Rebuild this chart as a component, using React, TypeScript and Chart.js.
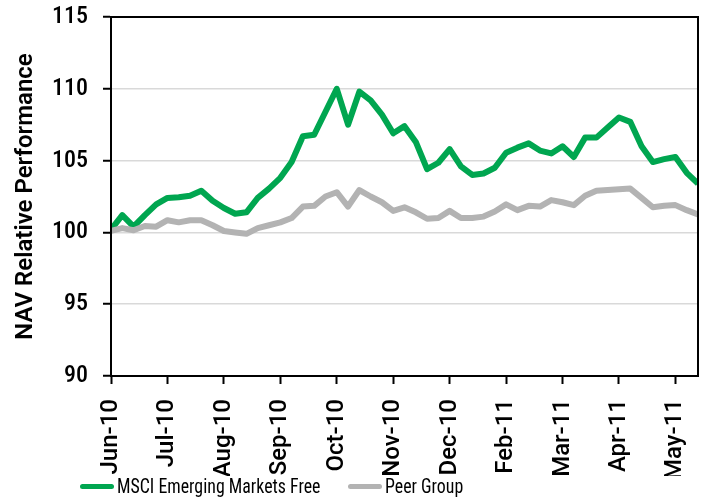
import React, { useEffect, useRef } from "react";
import { Chart, registerables } from "chart.js";

Chart.register(...registerables);

const xTickLabels = ["Jun-10", "Jul-10", "Aug-10", "Sep-10", "Oct-10", "Nov-10", "Dec-10", "Feb-11", "Mar-11", "Apr-11", "May-11"];

const msciValues = [
  100.2, 101.2, 100.4, 101.2, 101.95, 102.4, 102.45, 102.55, 102.9, 102.2,
  101.7, 101.3, 101.4, 102.4, 103.05, 103.8, 104.9, 106.7, 106.8, 108.4,
  110.0, 107.5, 109.8, 109.2, 108.2, 106.9, 107.4, 106.3, 104.4, 104.85,
  105.8, 104.6, 104.0, 104.1, 104.5, 105.55, 105.9, 106.2, 105.7, 105.5,
  106.0, 105.25, 106.6, 106.6, 107.3, 108.0, 107.7, 106.0, 104.9, 105.1,
  105.25, 104.15, 103.4,
];

const peerValues = [
  100.1, 100.3, 100.15, 100.45, 100.4, 100.85, 100.7, 100.85, 100.85, 100.5,
  100.1, 100.0, 99.9, 100.3, 100.5, 100.7, 101.0, 101.8, 101.85, 102.5,
  102.8, 101.8, 102.95, 102.5, 102.1, 101.5, 101.75, 101.4, 100.95, 101.0,
  101.5, 101.0, 101.0, 101.1, 101.45, 101.95, 101.55, 101.85, 101.8, 102.25,
  102.1, 101.9, 102.55, 102.9, 102.95, 103.0, 103.05, 102.4, 101.75, 101.85,
  101.9, 101.55, 101.25,
];

const seriesNames = ["MSCI Emerging Markets Free", "Peer Group"];
const seriesColors = ["#00a650", "#b3b3b3"];

const FONT = 'Roboto, "Liberation Sans", Arial, sans-serif';

const framePlugin = {
  id: "frame",
  afterDatasetsDraw(chart: any) {
    const { ctx, chartArea } = chart;
    ctx.save();
    ctx.strokeStyle = "#000";
    ctx.lineWidth = 2;
    ctx.strokeRect(chartArea.left, chartArea.top, chartArea.right - chartArea.left, chartArea.bottom - chartArea.top);
    ctx.restore();
  },
};

export default function App() {
  const ref = useRef<HTMLCanvasElement | null>(null);

  useEffect(() => {
    if (!ref.current) return;
    const toPoints = (arr: number[]) => arr.map((v, i) => ({ x: i, y: v }));
    const zeroPad = (s: any) => {
      s.paddingTop = 0;
      s.paddingBottom = 0;
      s.paddingLeft = 0;
      s.paddingRight = 0;
    };
    const chart = new Chart(ref.current, {
      type: "line",
      data: {
        datasets: [
          {
            label: seriesNames[0],
            data: toPoints(msciValues),
            borderColor: seriesColors[0],
            backgroundColor: seriesColors[0],
            borderWidth: 6,
            pointRadius: 0,
            tension: 0,
            borderJoinStyle: "round",
            order: 1,
          },
          {
            label: seriesNames[1],
            data: toPoints(peerValues),
            borderColor: seriesColors[1],
            backgroundColor: seriesColors[1],
            borderWidth: 6,
            pointRadius: 0,
            tension: 0,
            borderJoinStyle: "round",
            order: 0,
          },
        ],
      },
      options: {
        animation: false,
        responsive: false,
        maintainAspectRatio: false,
        devicePixelRatio: 1,
        layout: { padding: { top: 17, right: 10, left: 0, bottom: 26 } },
        plugins: {
          legend: { display: false },
          tooltip: { enabled: false },
        },
        scales: {
          x: {
            type: "linear",
            min: 0,
            max: msciValues.length - 1,
            afterFit: (s: any) => {
              s.height = 100;
              zeroPad(s);
            },
            border: { display: true, color: "#000", width: 2 },
            grid: {
              display: true,
              drawOnChartArea: false,
              drawTicks: true,
              tickLength: 8,
              tickColor: "#000",
              tickWidth: 2,
            },
            ticks: {
              stepSize: 5,
              includeBounds: false,
              autoSkip: false,
              maxTicksLimit: 30,
              minRotation: 90,
              maxRotation: 90,
              padding: 15,
              color: "#000",
              font: { family: FONT, size: 24, weight: "500" },
              callback: (v: any) => {
                const idx = Math.round(Number(v) / 5);
                return xTickLabels[idx] ?? "";
              },
            },
          },
          y: {
            min: 90,
            max: 115,
            afterFit: (s: any) => {
              s.width = 111;
              zeroPad(s);
            },
            border: { display: true, color: "#000", width: 2 },
            grid: {
              color: "#d9d9d9",
              lineWidth: 1.5,
              tickLength: 8,
              tickColor: "#000",
              tickWidth: 2,
            },
            ticks: {
              stepSize: 5,
              padding: 15,
              color: "#000",
              font: { family: FONT, size: 24, weight: "500 condensed" },
            },
            title: {
              display: true,
              text: "NAV Relative Performance",
              color: "#000",
              padding: { top: 12, bottom: 0 },
              font: { family: FONT, size: 24, weight: "600" },
            },
          },
        },
      },
      plugins: [framePlugin],
    } as any);
    return () => chart.destroy();
  }, []);

  const legendText: React.CSSProperties = {
    display: "inline-block",
    fontFamily: FONT,
    fontStretch: "condensed",
    fontSize: 21,
    color: "#000",
    lineHeight: "22px",
    whiteSpace: "nowrap",
    transform: "scaleX(0.85)",
    transformOrigin: "left center",
  };
  const lineStyle = (c: string, w: number): React.CSSProperties => ({
    display: "inline-block",
    width: w,
    height: 5,
    borderRadius: 3,
    background: c,
    marginRight: 3,
  });

  return (
    <div style={{ position: "fixed", left: 0, top: 0, width: 708, height: 502, background: "#fff" }}>
      <canvas ref={ref} width={708} height={502} style={{ display: "block", width: 708, height: 502 }} />
      <div style={{ position: "absolute", left: 80, top: 475, display: "flex", alignItems: "center" }}>
        <span style={lineStyle(seriesColors[0], 34)} />
        <span style={legendText}>{seriesNames[0]}</span>
      </div>
      <div style={{ position: "absolute", left: 348, top: 475, display: "flex", alignItems: "center" }}>
        <span style={lineStyle(seriesColors[1], 34)} />
        <span style={legendText}>{seriesNames[1]}</span>
      </div>
    </div>
  );
}
